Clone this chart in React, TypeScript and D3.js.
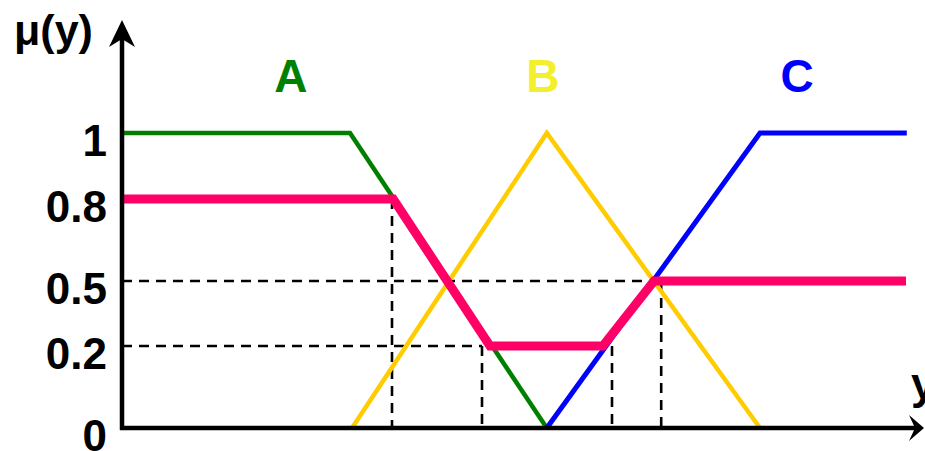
import React from "react";
import * as d3 from "d3";

const W = 925;
const H = 451;

// membership functions (x in arbitrary units 0..100, mu in 0..1)
const setA: [number, number][] = [[0, 1], [28.5, 1], [53.1, 0]];
const setB: [number, number][] = [[28.75, 0], [53.1, 1], [79.75, 0]];
const setC: [number, number][] = [[53.1, 0], [79.75, 1], [98.1, 1]];
const result: [number, number][] = [[0, 0.8], [33.9, 0.8], [46, 0.2], [60.1, 0.2], [66.5, 0.5], [98, 0.5]];

const yTicks = [0, 0.2, 0.5, 0.8, 1];
const yTickLabels = ["0", "0.2", "0.5", "0.8", "1"];

// dashed guides
const vGuides: [number, number][] = [[33.75, 0.8], [45, 0.2], [61.25, 0.2], [67.4, 0.5]];
const hGuides: [number, number][] = [[0.5, 67.4], [0.2, 45]];

const setLabels = ["A", "B", "C"];
const setLabelX = [21.1, 52.6, 84.4];
const setColors = ["#008000", "#ffcc00", "#0000ff"];
const labelColors = ["#008000", "#f4ef2c", "#0000ff"];

export default function App() {
  const x = d3.scaleLinear().domain([0, 100]).range([122, 922]);
  const y = d3.scaleLinear().domain(yTicks).range([428, 346, 281, 199, 133]);
  const line = d3
    .line<[number, number]>()
    .x((d) => x(d[0]))
    .y((d) => y(d[1]));

  const font = "'Liberation Sans', Arial, sans-serif";

  return (
    <svg
      width={W}
      height={H}
      style={{ position: "absolute", left: 0, top: 0, display: "block", background: "#fff" }}
    >
      {/* dashed guides */}
      {vGuides.map(([gx, gy], i) => (
        <line key={"v" + i} x1={x(gx)} x2={x(gx)} y1={y(gy)} y2={y(0)} stroke="#000" strokeWidth={2.6} strokeDasharray="10,7" />
      ))}
      {hGuides.map(([gy, gx], i) => (
        <line key={"h" + i} x1={x(0)} x2={x(gx)} y1={y(gy)} y2={y(gy)} stroke="#000" strokeWidth={2.6} strokeDasharray="10,7" />
      ))}

      {/* membership functions */}
      <path d={line(setA)!} fill="none" stroke={setColors[0]} strokeWidth={4.5} />
      <path d={line(setB)!} fill="none" stroke={setColors[1]} strokeWidth={4.5} />
      <path d={line(setC)!} fill="none" stroke={setColors[2]} strokeWidth={5} />
      <path d={line(result)!} fill="none" stroke="#ff0066" strokeWidth={9} strokeLinejoin="miter" />

      {/* axes */}
      <line x1={x(0)} x2={x(0)} y1={30} y2={430} stroke="#000" strokeWidth={4.5} />
      <line x1={x(0) - 2} x2={915} y1={y(0)} y2={y(0)} stroke="#000" strokeWidth={4.5} />
      <path d={`M${x(0)},20 L${x(0) + 13},47 L${x(0)},39 L${x(0) - 13},47 Z`} fill="#000" />
      <path d={`M924,${y(0)} L909,${y(0) - 13} L915,${y(0)} L909,${y(0) + 13} Z`} fill="#000" />

      {/* tick labels */}
      {yTicks.map((t, i) => (
        <text key={"t" + i} x={107} y={y(t) + 23} textAnchor="end" fontFamily={font} fontWeight="bold" fontSize={44} fill="#000">
          {yTickLabels[i]}
        </text>
      ))}

      {/* set labels */}
      {setLabels.map((s, i) => (
        <text key={s} x={x(setLabelX[i])} y={92} textAnchor="middle" fontFamily={font} fontWeight="bold" fontSize={46} fill={labelColors[i]}>
          {s}
        </text>
      ))}

      {/* axis titles */}
      <text x={14} y={45} fontFamily={font} fontWeight="bold" fontSize={43} fill="#000">μ(y)</text>
      <text x={911} y={399} fontFamily={font} fontWeight="bold" fontSize={44} fill="#000">y</text>
    </svg>
  );
}
